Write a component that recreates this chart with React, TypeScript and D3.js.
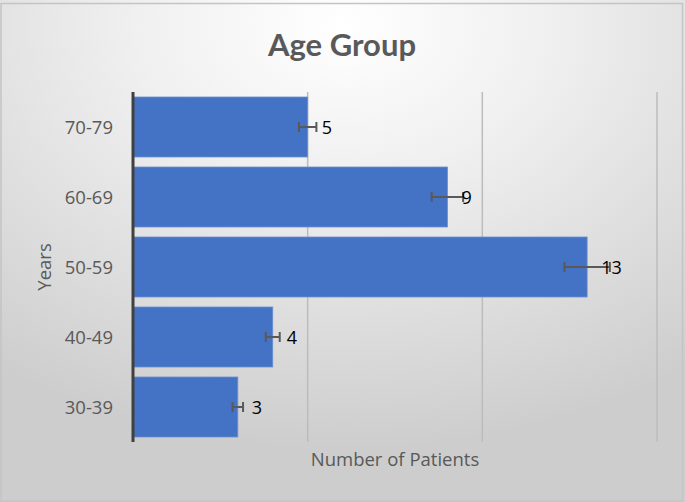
import React from "react";
import * as d3 from "d3";

const categories = ["30-39", "40-49", "50-59", "60-69", "70-79"];
const patients = [3, 4, 13, 9, 5];
const errorPct = 0.05;
const xTicks = [0, 5, 10, 15];
const title = "Age Group";
const xTitle = "Number of Patients";
const yTitle = "Years";

const W = 685;
const H = 502;
const FONT = "'Open Sans', 'DejaVu Sans', sans-serif";
const TFONT = "Lato, 'Open Sans', sans-serif";

export default function App() {
  const x = d3.scaleLinear().domain([0, 15]).range([133, 657]);
  const y = d3
    .scaleBand<string>()
    .domain([...categories].reverse())
    .range([92, 442])
    .paddingInner(0.143)
    .paddingOuter(0.0715);

  return (
    <div style={{ position: "absolute", left: 0, top: 0 }}>
      <svg width={W} height={H} style={{ display: "block" }}>
        <defs>
          <radialGradient id="bg" cx="0.5" cy="0.05" r="0.85" fx="0.5" fy="0.05">
            <stop offset="0" stopColor="#ffffff" />
            <stop offset="0.35" stopColor="#f0f0f0" />
            <stop offset="1" stopColor="#cdcdcd" />
          </radialGradient>
        </defs>
        <rect x={0} y={0} width={W} height={H} fill="url(#bg)" />
        <rect x={1} y={3.5} width={W - 3.5} height={H - 4.5} fill="none" stroke="#c4c4c4" strokeWidth={1.5} />
        <text x={342} y={56} textAnchor="middle" fontFamily={TFONT} fontWeight={700} fontSize={31} fill="#595959">
          {title}
        </text>
        {xTicks.slice(1).map((t) => (
          <line key={t} x1={x(t)} x2={x(t)} y1={92} y2={442} stroke="#bcbcbc" strokeWidth={1.5} />
        ))}
        {categories.map((c, i) => {
          const v = patients[i];
          const by = y(c)!;
          const bh = y.bandwidth();
          const cy = by + bh / 2;
          const err = v * errorPct;
          return (
            <g key={c}>
              <rect x={x(0)} y={by} width={x(v) - x(0)} height={bh} fill="#4472C4" stroke="#6a8fd0" strokeWidth={0.8} />
              <line x1={x(v - err)} x2={x(v + err)} y1={cy} y2={cy} stroke="#595959" strokeWidth={2} />
              <line x1={x(v - err)} x2={x(v - err)} y1={cy - 5} y2={cy + 5} stroke="#595959" strokeWidth={2} />
              <line x1={x(v + err)} x2={x(v + err)} y1={cy - 5} y2={cy + 5} stroke="#595959" strokeWidth={2} />
              <text x={x(v) + 14} y={cy + 6.5} fontFamily={FONT} fontSize={18} fill="#000000">
                {v}
              </text>
              <text x={113} y={cy + 6.5} textAnchor="end" fontFamily={FONT} fontSize={18.5} fill="#595959">
                {c}
              </text>
            </g>
          );
        })}
        <line x1={x(0)} x2={x(0)} y1={92} y2={442} stroke="#404040" strokeWidth={3} />
        <text x={395} y={466} textAnchor="middle" fontFamily={FONT} fontSize={18.5} fill="#595959">
          {xTitle}
        </text>
        <text
          transform={`translate(51,267) rotate(-90)`}
          textAnchor="middle"
          fontFamily={FONT}
          fontSize={18.5}
          fill="#595959"
        >
          {yTitle}
        </text>
      </svg>
    </div>
  );
}
